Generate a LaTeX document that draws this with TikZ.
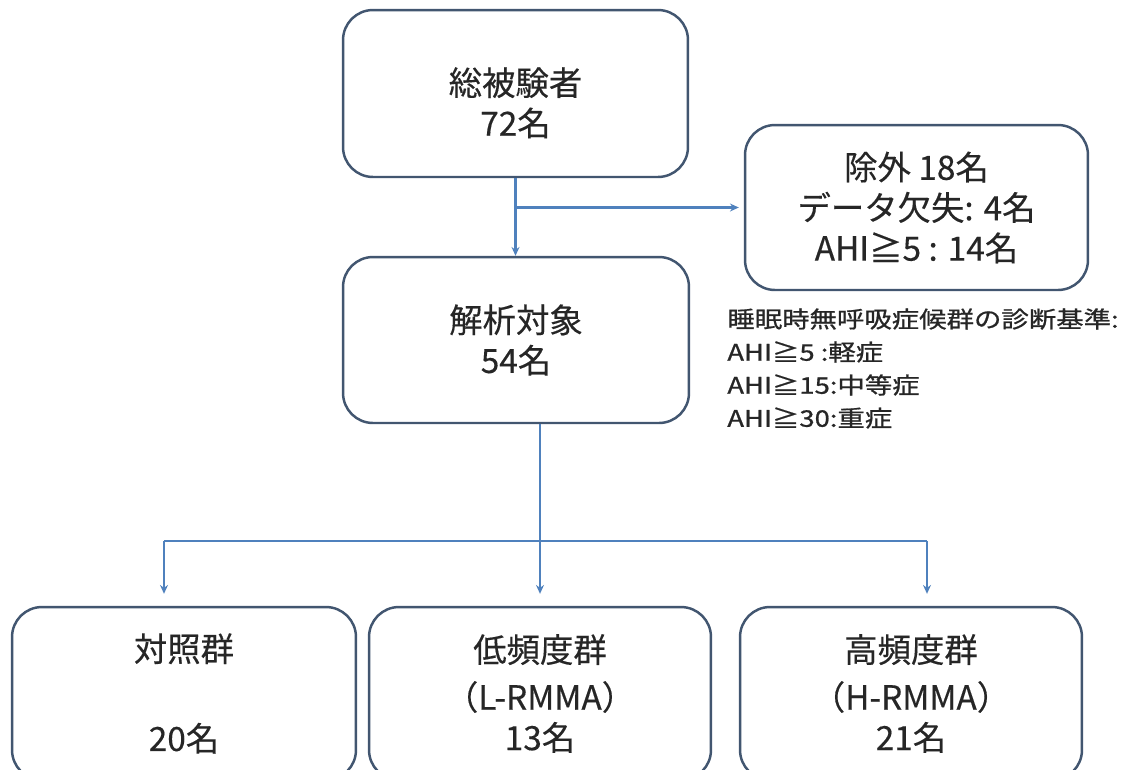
\documentclass[tikz,border=0pt]{standalone}
\usepackage{fontspec}
\setmainfont[FakeBold=0.3]{Noto Sans CJK JP}
\newfontfamily\notefont[FakeStretch=1.2, FakeBold=0.8]{Noto Sans CJK JP}
\usepackage{tikz}
\usetikzlibrary{arrows.meta}
\usetikzlibrary{calc}
\definecolor{boxgray}{RGB}{66,86,112}
\definecolor{linkblue}{RGB}{79,129,189}
\definecolor{textgray}{RGB}{38,38,38}

\tikzset{
    stage/.style={draw=boxgray, line width=1.4pt, rounded corners=0.6cm, fill=white, align=center, inner sep=0pt, text=textgray, font=\fontsize{19}{23}\selectfont},
    link/.style={draw=linkblue, line width=1.2pt},
    linkarrow/.style={link, -{Stealth[length=5pt,width=4.5pt]}}
}

\begin{document}
\begin{tikzpicture}[x=0.02cm, y=-0.02cm]

        \useasboundingbox (0,0) rectangle (1146,769);
        \fill[white] (0,0) rectangle (1146,769);

        \node[stage, minimum width=6.9cm, minimum height=3.34cm] (total) at (515.5,93.5) {\rule{0pt}{1.4em}総被験者\\72名};

        \node[stage, minimum width=6.86cm, minimum height=3.3cm] (excl) at (916.5,207.5) {除外 18名\\データ欠失: 4名\\AHI≧5 : 14名};

        \node[stage, minimum width=6.92cm, minimum height=3.32cm] (anal) at (516,340) {解析対象\\54名};

        \node[anchor=north west, align=left, inner sep=0pt, text=textgray, font=\notefont\fontsize{13}{18.8}\selectfont] (criteria) at (727,308) {睡眠時無呼吸症候群の診断基準:\\AHI≧5 :軽症\\AHI≧15:中等症\\AHI≧30:重症};

        \node[stage, minimum width=6.88cm, minimum height=3.46cm] (ctrl) at (184,693.5) {対照群\\[28pt]20名};

        \node[stage, minimum width=6.84cm, minimum height=3.46cm] (low) at (540,693.5) {低頻度群\\[4pt]（L-RMMA）\\13名};

        \node[stage, minimum width=6.84cm, minimum height=3.46cm] (high) at (911,693.5) {高頻度群\\[4pt]（H-RMMA）\\21名};

        \draw[linkarrow] (total.south) -- (total.south |- anal.north);

        \draw[linkarrow, shorten >=0.1cm] (total.south |- excl.west) -- (excl.west);

        \draw[linkarrow, shorten >=0.24cm] (low.north |- anal.south) -- (low.north);

        \coordinate (splitL) at (164,541);
        \coordinate (splitR) at (927,541);

        \draw[link] (splitL) -- (splitR);

        \draw[linkarrow, shorten >=0.24cm] (splitL) -- (splitL |- ctrl.north);

        \draw[linkarrow, shorten >=0.24cm] (splitR) -- (splitR |- high.north);

    \end{tikzpicture}
\end{document}
